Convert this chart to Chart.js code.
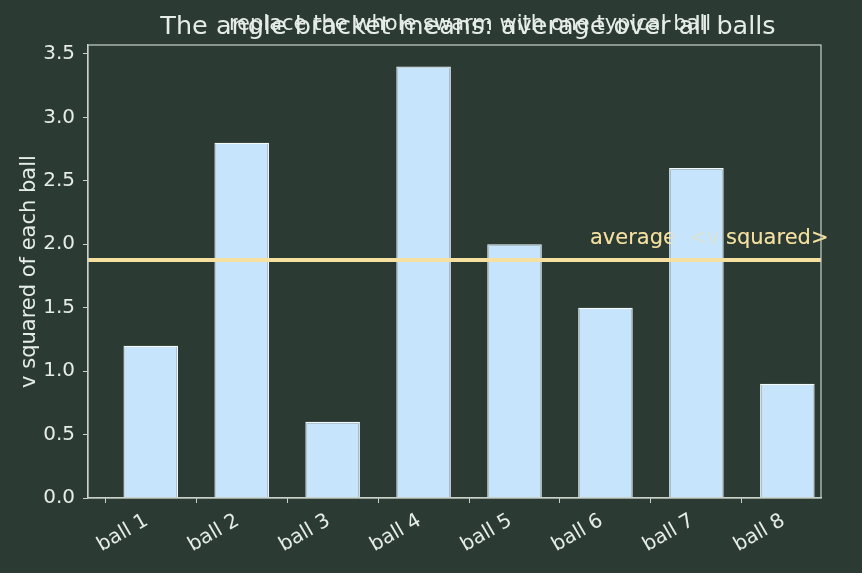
<!DOCTYPE html>
<html>
<head>
<meta charset="utf-8">
<script src="https://cdn.jsdelivr.net/npm/chart.js@4.4.1/dist/chart.umd.min.js"></script>
<style>
  html, body { margin: 0; padding: 0; background: #2b3b34; }
  #wrap { width: 862px; height: 573px; }
</style>
</head>
<body>
<div id="wrap"><canvas id="chart" width="862" height="573"></canvas></div>
<script>
// data
const ballLabels = ['ball 1', 'ball 2', 'ball 3', 'ball 4', 'ball 5', 'ball 6', 'ball 7', 'ball 8'];
const vSquared = [1.2, 2.8, 0.6, 3.4, 2.0, 1.5, 2.6, 0.9];
const yTicks = [0, 0.5, 1.0, 1.5, 2.0, 2.5, 3.0, 3.5];
const avgLabel = 'average  <v squared>';
const titleText = 'The angle bracket means: average over all balls';
const subtitleText = 'replace the whole swarm with one typical ball';

const average = vSquared.reduce((a, b) => a + b, 0) / vSquared.length;
const xMin = -0.69, xMax = 7.37;

const textColor = '#e6ece6';
const axisColor = '#c9d1c9';
const avgColor = '#f5e0a0';
const font = 'DejaVu Sans';

const drawAvgLabel = (chart, alpha) => {
  const { ctx, scales: { x, y } } = chart;
  ctx.save();
  ctx.globalAlpha = alpha;
  ctx.fillStyle = avgColor;
  ctx.font = `21px "${font}"`;
  ctx.textAlign = 'left';
  ctx.textBaseline = 'alphabetic';
  ctx.fillText(avgLabel, x.getPixelForValue(4.83), y.getPixelForValue(average) - 16);
  ctx.restore();
};

// label sits under the bars (shows faintly through them), box round the plot
const decorations = {
  id: 'decorations',
  beforeDatasetsDraw(chart) {
    drawAvgLabel(chart, 1);
  },
  afterDatasetDraw(chart, args) {
    if (args.index === 1) drawAvgLabel(chart, 0.38);
  },
  afterDraw(chart) {
    const { ctx, chartArea: a } = chart;
    ctx.save();
    ctx.strokeStyle = axisColor;
    ctx.lineWidth = 1.2;
    ctx.strokeRect(a.left, a.top, a.right - a.left, a.bottom - a.top);
    ctx.fillStyle = textColor;
    ctx.textAlign = 'center';
    ctx.textBaseline = 'alphabetic';
    ctx.font = `25.5px "${font}"`;
    ctx.fillText(titleText, 468, 34);
    ctx.font = `21px "${font}"`;
    ctx.fillText(subtitleText, 470, 30);
    ctx.restore();
  }
};

const ctx = document.getElementById('chart');
new Chart(ctx, {
  type: 'bar',
  data: {
    datasets: [
      {
        type: 'line',
        data: [{ x: xMin, y: average }, { x: xMax, y: average }],
        borderColor: avgColor,
        borderWidth: 4,
        pointRadius: 0,
        order: 0,
      },
      {
        data: vSquared.map((v, i) => ({ x: i, y: v })),
        backgroundColor: '#c6e5fd',
        borderColor: '#f4f9fc',
        borderWidth: 1.3,
        barPercentage: 0.6,
        categoryPercentage: 1,
        order: 1,
      },
    ],
  },
  plugins: [decorations],
  options: {
    responsive: false,
    animation: false,
    layout: { padding: { top: 45, right: 41, left: 17, bottom: 0 } },
    scales: {
      x: {
        type: 'linear',
        min: xMin,
        max: xMax,
        offset: false,
        afterBuildTicks: (axis) => { axis.ticks = ballLabels.map((_, i) => ({ value: i })); },
        afterFit: (axis) => { axis.height = 75; },
        border: { display: true, color: axisColor, width: 1.2 },
        grid: { drawOnChartArea: false, drawTicks: true, tickLength: 5, color: axisColor },
        ticks: {
          color: textColor,
          font: { family: font, size: 20 },
          minRotation: 30,
          maxRotation: 30,
          padding: 6,
          labelOffset: -4,
          callback: (v) => ballLabels[v],
        },
      },
      y: {
        min: 0,
        max: 3.57,
        afterBuildTicks: (axis) => { axis.ticks = yTicks.map((v) => ({ value: v })); },
        afterFit: (axis) => { axis.width = 71; },
        border: { display: true, color: axisColor, width: 1.2 },
        grid: { drawOnChartArea: false, drawTicks: true, tickLength: 5, color: axisColor },
        ticks: {
          color: textColor,
          font: { family: font, size: 20 },
          padding: 8,
          callback: (v) => v.toFixed(1),
        },
        title: {
          display: true,
          text: 'v squared of each ball',
          color: textColor,
          font: { family: font, size: 21 },
          padding: { top: 0, bottom: 6 },
        },
      },
    },
    plugins: {
      legend: { display: false },
      tooltip: { enabled: false },
    },
  },
});
</script>
</body>
</html>
